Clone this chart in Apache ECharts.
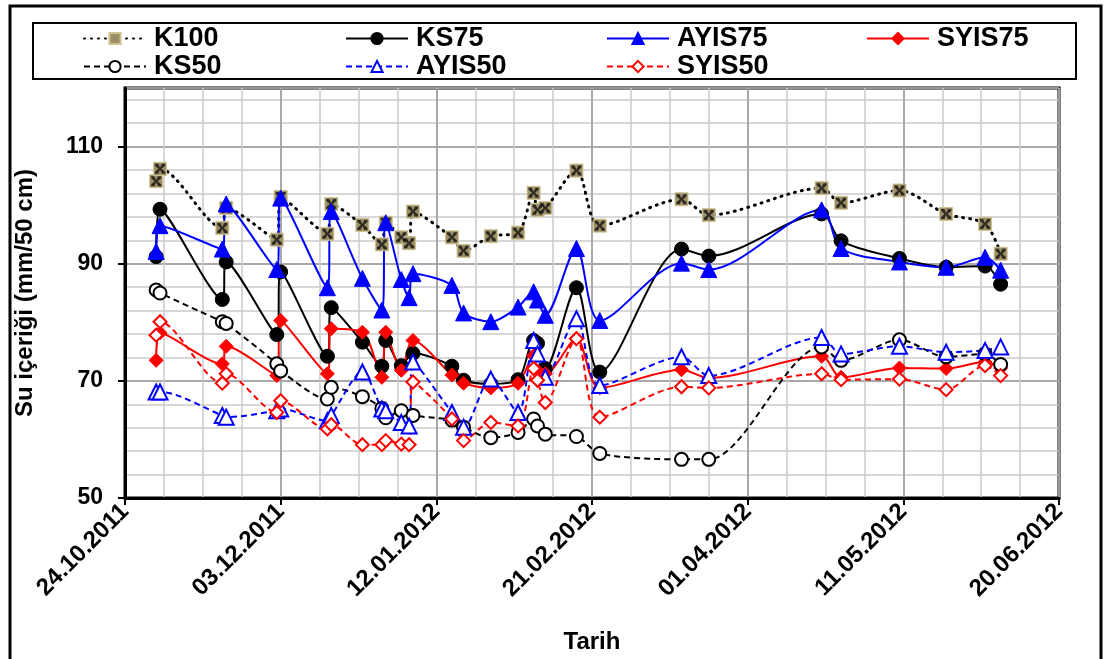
<!DOCTYPE html>
<html>
<head>
<meta charset="utf-8">
<script src="https://cdn.jsdelivr.net/npm/echarts@6/dist/echarts.min.js"></script>
<style>
html, body { margin: 0; padding: 0; background: #fff; }
#main { width: 1105px; height: 659px; }
</style>
</head>
<body>
<div id="main"></div>
<script>
// olcum tarihleri
const dates = [
  '2011-11-01', '2011-11-02', '2011-11-18', '2011-11-19', '2011-12-02', '2011-12-03',
  '2011-12-15', '2011-12-16', '2011-12-24', '2011-12-29', '2011-12-30', '2012-01-03',
  '2012-01-05', '2012-01-06', '2012-01-16', '2012-01-19', '2012-01-26', '2012-02-02',
  '2012-02-06', '2012-02-07', '2012-02-09', '2012-02-17', '2012-02-23', '2012-03-15',
  '2012-03-22', '2012-04-20', '2012-04-25', '2012-05-10', '2012-05-22', '2012-06-01',
  '2012-06-05'
]
const k100 = [104.1, 106.2, 96.1, 99.5, 94.1, 101.4, 95.1, 100.2, 96.6, 93.3, 97.0, 94.5, 93.5, 98.9, 94.5, 92.2, 94.7, 95.3, 102.1, 99.2, 99.5, 105.9, 96.5, 101.0, 98.3, 102.9, 100.4, 102.5, 98.5, 96.8, 91.7]
const ks75 = [91.2, 99.3, 83.9, 90.3, 77.9, 88.6, 74.2, 82.5, 76.6, 72.5, 76.9, 72.6, null, 74.7, 72.5, 70.1, 69.5, 70.2, 76.9, 76.4, 72.1, 85.9, 71.5, 92.5, 91.3, 98.5, 93.9, 90.9, 89.4, 89.6, 86.5]
const ayis75 = [92.1, 96.5, 92.5, 100.2, 89.0, 101.2, 85.9, 98.9, 87.5, 82.1, 97.0, 87.3, 84.2, 88.3, 86.3, 81.6, 80.1, 82.6, 85.2, 83.8, 81.2, 92.6, 80.3, 90.1, 89.0, 99.2, 92.6, 90.3, 89.4, 91.1, 88.9]
const syis75 = [73.5, 78.2, 72.9, 75.9, 70.9, 80.3, 71.2, 78.9, 78.3, 70.6, 78.3, 71.8, null, 76.9, 71.0, 69.6, 68.8, 69.6, 74.3, 71.7, 71.2, 77.2, 68.8, 71.9, 70.5, 74.2, 70.6, 72.2, 72.1, 73.2, 72.2]
const ks50 = [85.5, 85.0, 80.1, 79.8, 72.9, 71.7, 66.9, 68.9, 67.3, 65.3, 63.7, 64.9, null, 64.1, 63.3, 62.1, 60.3, 61.2, 63.5, 62.3, 60.9, 60.5, 57.6, 56.6, 56.6, 75.8, 73.5, 77.0, 74.1, 74.6, 72.8]
const ayis50 = [68.1, 68.1, 64.1, 63.8, 64.9, 65.2, 63.2, 64.1, 71.5, 65.2, 64.9, 62.9, 62.3, 73.2, 64.6, 62.1, 70.3, 64.6, 76.9, 74.6, 70.6, 80.6, 69.2, 74.1, 70.9, 77.4, 74.6, 75.9, 74.9, 75.2, 75.8]
const syis50 = [77.8, 80.1, 69.6, 71.2, 64.6, 66.6, 61.8, 62.5, 59.1, 59.1, 59.8, 59.2, 59.1, 69.8, 63.5, 59.8, 62.9, 62.3, 72.1, 70.1, 66.3, 77.2, 63.8, 69.0, 68.8, 71.2, 70.2, 70.3, 68.5, 72.6, 70.9]

const DAY = 86400000
const xMin = Date.UTC(2011, 9, 24)
const xMax = Date.UTC(2012, 5, 20)
const FONT = 'Liberation Sans'
const BOWTIE = 'path://M0,0 L3,0 L5,4 L7,0 L10,0 L10,2 L6.5,5 L10,8 L10,10 L7,10 L5,6 L3,10 L0,10 L0,8 L3.5,5 L0,2 Z'

function pairs(vals) {
  return dates.map((d, i) => [Date.parse(d), vals[i]])
}
function fmtDate(v) {
  const d = new Date(v)
  const p = n => (n < 10 ? '0' : '') + n
  return p(d.getUTCDate()) + '.' + p(d.getUTCMonth() + 1) + '.' + d.getUTCFullYear()
}
function line(name, vals, color, type, symbol, size, open) {
  return {
    name: name,
    type: 'line',
    data: pairs(vals),
    connectNulls: true,
    smooth: 0.3,
    symbol: symbol,
    symbolSize: size,
    lineStyle: { color: color, width: type === 'dotted' ? 3 : 2, type: type === 'dotted' ? [1, 6] : (type === 'dashed' ? [6, 4] : 'solid'), cap: type === 'dotted' ? 'round' : 'butt' },
    itemStyle: open
      ? { color: '#fff', borderColor: color, borderWidth: 2 }
      : { color: color, borderColor: color, borderWidth: 1 },
    emphasis: { disabled: true },
    animation: false
  }
}

const k100Series = line('K100', k100, '#000', 'dotted', 'rect', 13, false)
k100Series.itemStyle = { color: '#9c8e66', borderColor: '#cfc393', borderWidth: 1 }

const series = [
  k100Series,
  {
    // K100 isaretlerindeki siyah carpi
    name: 'K100x', type: 'scatter', data: pairs(k100), symbol: BOWTIE, symbolSize: 10,
    itemStyle: { color: '#111' }, silent: true, z: 3, animation: false
  },
  line('KS75', ks75, '#000', 'solid', 'circle', 14, false),
  line('AYIS75', ayis75, '#0000ff', 'solid', 'triangle', 16, false),
  line('SYIS75', syis75, '#ff0000', 'solid', 'diamond', 14, false),
  line('KS50', ks50, '#000', 'dashed', 'circle', 13, true),
  line('AYIS50', ayis50, '#0000ff', 'dashed', 'triangle', 15, true),
  line('SYIS50', syis50, '#ff0000', 'dashed', 'diamond', 13, true)
]

const legendPos = [
  ['K100', 83, 25], ['KS75', 345, 25], ['AYIS75', 606, 25], ['SYIS75', 866, 25],
  ['KS50', 83, 53], ['AYIS50', 345, 53], ['SYIS50', 606, 53]
]
const legends = legendPos.map(l => ({
  data: [l[0]],
  left: l[1],
  top: l[2],
  padding: 0,
  itemWidth: 62,
  itemHeight: 14,
  itemGap: 0,
  selectedMode: false,
  textStyle: { fontFamily: FONT, fontWeight: 'bold', fontSize: 27, color: '#000', padding: [0, 0, 0, 3] }
}))

const option = {
  backgroundColor: '#fff',
  animation: false,
  graphic: [
    { type: 'rect', shape: { x: 10, y: 6, width: 1091, height: 700 }, style: { fill: 'none', stroke: '#000', lineWidth: 3 }, z: -1 },
    { type: 'rect', shape: { x: 33, y: 23, width: 1043, height: 56 }, style: { fill: '#fff', stroke: '#000', lineWidth: 2 }, z: -1 }
  ],
  legend: legends,
  grid: { left: 125, right: 46, top: 88, bottom: 161, show: true, borderColor: '#000', borderWidth: 3, backgroundColor: 'transparent' },
  xAxis: [
    {
      type: 'value', min: xMin, max: xMax, interval: 10 * DAY,
      axisLine: { show: false }, axisTick: { show: false }, axisLabel: { show: false },
      splitLine: { show: true, lineStyle: { color: '#cbcbcb', width: 1.5 } }
    },
    {
      type: 'value', min: xMin, max: xMax, interval: 40 * DAY, position: 'bottom',
      name: 'Tarih', nameLocation: 'middle', nameGap: 132,
      nameTextStyle: { fontFamily: FONT, fontWeight: 'bold', fontSize: 24, color: '#000' },
      axisLine: { show: true, onZero: false, lineStyle: { color: '#000', width: 3 } },
      axisTick: { show: true, length: 7, lineStyle: { color: '#000', width: 2 } },
      axisLabel: { rotate: 45, margin: 10, fontFamily: FONT, fontWeight: 'bold', fontSize: 24, color: '#000', formatter: fmtDate },
      splitLine: { show: true, lineStyle: { color: '#9a9a9a', width: 1.5 } }
    }
  ],
  yAxis: [
    {
      type: 'value', min: 50, max: 120, interval: 4,
      axisLine: { show: false }, axisTick: { show: false }, axisLabel: { show: false },
      splitLine: { show: true, lineStyle: { color: '#cbcbcb', width: 1.5 } }
    },
    {
      type: 'value', min: 50, max: 120, interval: 20, position: 'left',
      name: 'Su içeriği (mm/50 cm)', nameLocation: 'middle', nameGap: 88, nameRotate: 90,
      nameTextStyle: { fontFamily: FONT, fontWeight: 'bold', fontSize: 24, color: '#000' },
      axisLine: { show: true, onZero: false, lineStyle: { color: '#000', width: 3 } },
      axisTick: { show: true, length: 7, lineStyle: { color: '#000', width: 2 }, customValues: [50, 70, 90, 110] },
      axisLabel: { margin: 22, fontFamily: FONT, fontWeight: 'bold', fontSize: 23, color: '#000', customValues: [50, 70, 90, 110] },
      splitLine: { show: true, lineStyle: { color: '#9a9a9a', width: 1.5 } }
    }
  ],
  series: series
}

const chart = echarts.init(document.getElementById('main'))
chart.setOption(option)
</script>
</body>
</html>
